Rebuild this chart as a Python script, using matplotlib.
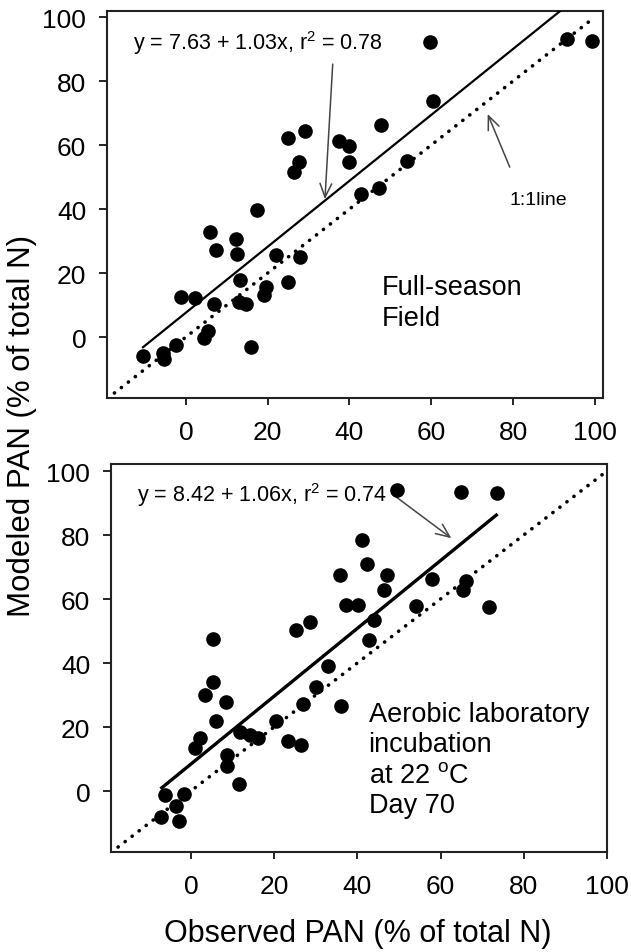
import matplotlib
matplotlib.use("Agg")
import matplotlib.pyplot as plt
import numpy as np

plt.rcParams['font.family'] = ['Liberation Sans', 'DejaVu Sans']
plt.rcParams['mathtext.fontset'] = 'custom'
plt.rcParams['mathtext.rm'] = 'Liberation Sans'

# full-season field
field_obs = [-10.4, -5.7, -5.4, -2.4, -1.1, 2.2, 4.5, 5.5, 5.9, 6.9, 7.3, 12.2, 12.5,
             13.0, 13.2, 14.7, 15.8, 17.3, 19.1, 19.5, 22.0, 25.0, 25.0, 26.5, 27.6,
             27.9, 29.1, 37.5, 39.9, 39.9, 42.7, 47.3, 47.6, 54.0, 59.7, 60.5, 93.1, 99.2]
field_mod = [-5.8, -5.0, -6.9, -2.5, 12.4, 12.2, -0.4, 2.0, 32.7, 10.3, 27.2, 30.6, 26.1,
             11.0, 17.9, 10.3, -3.2, 39.6, 13.1, 15.5, 25.6, 17.3, 62.1, 51.5, 54.6,
             24.9, 64.5, 61.4, 59.6, 54.6, 44.7, 46.5, 66.2, 54.9, 92.1, 73.8, 93.1, 92.6]
field_fit = (7.63, 1.03)
field_fit_x = [-10.5, 92.0]

# aerobic lab incubation, day 70
lab_obs = [-7.2, -6.2, -3.6, -2.8, -1.7, 1.0, 2.2, 3.4, 5.2, 5.4, 6.0, 8.4, 8.6, 8.8,
           11.6, 11.8, 14.1, 16.1, 20.5, 23.3, 25.2, 26.5, 26.9, 28.7, 30.0, 33.0,
           35.9, 36.1, 37.2, 40.2, 41.2, 42.3, 42.8, 44.1, 46.5, 47.1, 49.5, 54.0,
           58.0, 64.9, 65.3, 66.1, 71.7, 73.5]
lab_mod = [-8.2, -1.25, -4.6, -9.5, -0.9, 13.6, 16.5, 30.0, 34.2, 47.5, 21.8, 27.9, 11.3, 7.9,
           2.2, 18.6, 17.5, 16.7, 22.0, 15.5, 50.3, 14.4, 27.2, 52.9, 32.4, 39.2,
           67.5, 26.7, 58.1, 58.1, 78.4, 70.9, 47.3, 53.5, 62.9, 67.5, 94.2, 57.9,
           66.3, 93.5, 62.9, 65.7, 57.4, 93.0]
lab_fit = (8.42, 1.06)
lab_fit_x = [-7.0, 73.4]

ticks = [0, 20, 40, 60, 80, 100]

fig = plt.figure(figsize=(6.31, 9.53), dpi=100)
ax1 = fig.add_axes([0.1696, 0.5813, 0.786, 0.4061])
ax2 = fig.add_axes([0.1759, 0.1049, 0.786, 0.4072])

def panel(ax, obs, mod, fit, fit_x, fit_lw, xlim, ylim, one_end):
    ax.plot([-17.5, one_end], [-17.5, one_end], color='black', lw=2.6,
            linestyle=(0, (0.05, 2.4)), dash_capstyle='round', zorder=2)
    fx = np.array(fit_x)
    ax.plot(fx, fit[0] + fit[1] * fx, color='black', lw=fit_lw, zorder=3)
    ax.plot(obs, mod, 'o', color='black', ms=9.5, zorder=4)
    ax.set_xlim(*xlim)
    ax.set_ylim(*ylim)
    ax.set_xticks(ticks)
    ax.set_yticks(ticks)
    ax.tick_params(axis='x', direction='out', length=5, width=1.2, pad=11, labelsize=19)
    ax.tick_params(axis='y', direction='out', length=6, width=1.2, pad=9, labelsize=19)
    for s in ax.spines.values():
        s.set_linewidth(1.5)
        s.set_color('#222222')

panel(ax1, field_obs, field_mod, field_fit, field_fit_x, 1.6, (-19.3, 102), (-19.06, 101.9), 100)
panel(ax2, lab_obs, lab_mod, lab_fit, lab_fit_x, 2.4, (-19.2, 100), (-19.06, 102.2), 102)

arrow = dict(arrowstyle='->,head_length=0.7,head_width=0.3', color='#444444', lw=1.1,
             mutation_scale=14, shrinkA=0, shrinkB=0)

ax1.text(-13, 90, 'y = 7.63 + 1.03x, r$^2$ = 0.78', fontsize=15.5, va='baseline')
ax1.annotate('', xy=(34, 43.1), xytext=(35.9, 85.3), arrowprops=arrow)
ax1.text(79.2, 41.6, '1:1line', fontsize=14, va='baseline')
ax1.annotate('', xy=(73.8, 69.7), xytext=(79.2, 53.1), arrowprops=arrow)
# multi-line text: va='baseline' pins the last line
ax1.text(47.9, 3.75, 'Full-season\nField', fontsize=19.5, va='baseline', linespacing=1.25)

ax2.text(-12.9, 90.6, 'y = 8.42 + 1.06x, r$^2$ = 0.74', fontsize=15.5, va='baseline')
ax2.annotate('', xy=(62.6, 79), xytext=(48.4, 92.8), arrowprops=arrow)
ax2.text(42.7, -6.6, 'Aerobic laboratory\nincubation\nat 22 $^{\\mathrm{o}}$C\nDay 70',
         fontsize=19.5, va='baseline', linespacing=1.22)

fig.text(0.035, 0.553, 'Modeled PAN (% of total N)', rotation=90, fontsize=22.5,
         ha='center', va='center')
fig.text(0.567, 0.004, 'Observed PAN (% of total N)', fontsize=22, ha='center', va='bottom')

fig.savefig('out.png', dpi=100)
